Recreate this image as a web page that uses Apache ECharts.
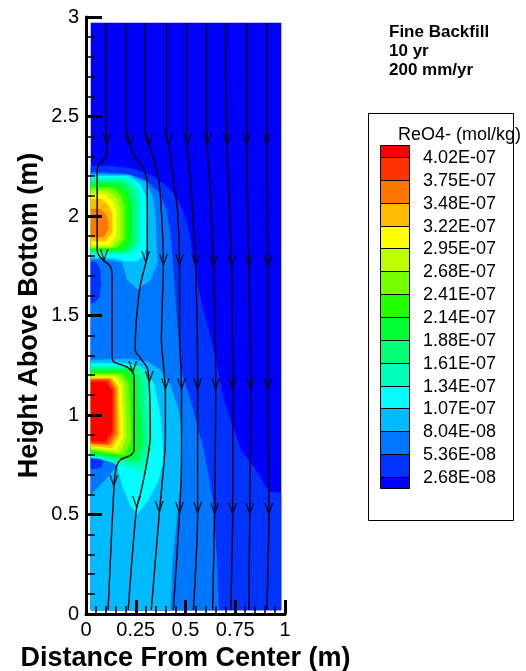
<!DOCTYPE html>
<html>
<head>
<meta charset="utf-8">
<script src="https://cdn.jsdelivr.net/npm/echarts@6/dist/echarts.min.js"></script>
<style>
html, body { margin: 0; padding: 0; background: #fff; }
#main { width: 526px; height: 671px; }
</style>
</head>
<body>
<div id="main"></div>
<script>
// contour levels, ReO4- (mol/kg)
var levels = [2.68e-8, 5.36e-8, 8.04e-8, 1.07e-7, 1.34e-7, 1.61e-7, 1.88e-7, 2.14e-7,
  2.41e-7, 2.68e-7, 2.95e-7, 3.22e-7, 3.48e-7, 3.75e-7, 4.02e-7];
// one colour per band, band 0 = below the first level
var bandColors = ['#0000ff', '#0033ff', '#0077ff', '#00bbff', '#00ffff', '#00ffbb', '#00ff77', '#00ff33',
  '#22ff00', '#77ff00', '#bbff00', '#ffff00', '#ffbb00', '#ff7700', '#ff3300', '#ff0000'];

// filled contour regions (m, m)
var fieldEdge = [[0.025, 0.02], [0.98, 0.02], [0.98, 2.97], [0.025, 2.97]];
var band1Area = [[0.025, 0.02], [0.98, 0.02], [0.98, 0.608], [0.919, 0.613], [0.854, 0.724], [0.778, 0.824],
  [0.692, 1.075], [0.641, 1.327], [0.576, 1.578], [0.54, 1.779], [0.515, 1.93], [0.485, 2.03], [0.449, 2.101],
  [0.399, 2.156], [0.323, 2.206], [0.222, 2.241], [0.121, 2.251], [0.025, 2.251]];
var band2Area = [[0.025, 0.02], [0.667, 0.02], [0.657, 0.271], [0.636, 0.573], [0.591, 0.824], [0.525, 1.075],
  [0.475, 1.226], [0.46, 1.427], [0.449, 1.578], [0.434, 1.779], [0.424, 1.905], [0.404, 2.03], [0.364, 2.121],
  [0.298, 2.181], [0.197, 2.211], [0.025, 2.221]];
var band1PocketUpper = [[0.025, 1.769], [0.051, 1.769], [0.071, 1.729], [0.076, 1.653], [0.066, 1.588], [0.04, 1.563], [0.025, 1.563]];
var band1PocketLower = [[0.025, 0.784], [0.066, 0.784], [0.086, 0.764], [0.076, 0.739], [0.04, 0.729], [0.025, 0.729]];
var band3Lower = [[0.025, 0.02], [0.424, 0.02], [0.434, 0.271], [0.455, 0.472], [0.48, 0.724], [0.485, 0.874],
  [0.465, 1.025], [0.424, 1.151], [0.374, 1.226], [0.313, 1.266], [0.222, 1.281], [0.025, 1.276], [0.025, 0.794],
  [0.131, 0.784], [0.172, 0.759], [0.096, 0.673], [0.025, 0.598]];
var band3Upper = [[0.025, 2.211], [0.222, 2.206], [0.298, 2.171], [0.333, 2.106], [0.348, 2.005], [0.354, 1.854],
  [0.359, 1.769], [0.323, 1.678], [0.258, 1.633], [0.207, 1.678], [0.182, 1.769], [0.071, 1.784], [0.025, 1.784]];
var band4Lower = [[0.025, 1.261], [0.222, 1.256], [0.298, 1.226], [0.343, 1.151], [0.369, 1.025], [0.384, 0.874],
  [0.389, 0.774], [0.364, 0.673], [0.313, 0.573], [0.258, 0.503], [0.222, 0.548], [0.182, 0.648], [0.157, 0.744],
  [0.121, 0.779], [0.025, 0.784]];
var band4Upper = [[0.025, 2.201], [0.207, 2.201], [0.273, 2.161], [0.303, 2.09], [0.308, 1.98], [0.308, 1.859],
  [0.288, 1.799], [0.253, 1.774], [0.197, 1.774], [0.141, 1.789], [0.025, 1.794]];

// lower plume, bands 5..15
var lowerRings = [
  [[0.025, 1.246], [0.273, 1.246], [0.313, 1.196], [0.333, 0.844], [0.303, 0.744], [0.278, 0.709], [0.242, 0.729], [0.025, 0.794]],
  [[0.025, 1.236], [0.253, 1.236], [0.283, 1.191], [0.303, 0.849], [0.268, 0.759], [0.025, 0.799]],
  [[0.025, 1.226], [0.227, 1.226], [0.258, 1.181], [0.278, 0.859], [0.242, 0.774], [0.025, 0.809]],
  [[0.025, 1.216], [0.202, 1.216], [0.232, 1.171], [0.247, 0.864], [0.212, 0.784], [0.025, 0.814]],
  [[0.025, 1.206], [0.182, 1.206], [0.212, 1.161], [0.227, 0.874], [0.192, 0.799], [0.025, 0.824]],
  [[0.025, 1.201], [0.162, 1.201], [0.192, 1.156], [0.202, 0.879], [0.167, 0.809], [0.025, 0.829]],
  [[0.025, 1.191], [0.146, 1.191], [0.177, 1.146], [0.187, 0.889], [0.152, 0.824], [0.025, 0.839]],
  [[0.025, 1.186], [0.131, 1.186], [0.162, 1.141], [0.167, 0.894], [0.131, 0.834], [0.025, 0.844]],
  [[0.025, 1.181], [0.121, 1.181], [0.152, 1.136], [0.157, 0.905], [0.121, 0.849], [0.025, 0.854]],
  [[0.025, 1.176], [0.111, 1.176], [0.141, 1.131], [0.141, 0.910], [0.106, 0.854], [0.025, 0.859]],
  [[0.025, 1.166], [0.101, 1.166], [0.131, 1.121], [0.131, 0.920], [0.096, 0.869], [0.025, 0.869]]
];
// upper plume, bands 5..13
var upperRings = [
  [[0.025, 2.191], [0.212, 2.191], [0.258, 2.146], [0.273, 2.08], [0.273, 1.864], [0.227, 1.809], [0.025, 1.809]],
  [[0.025, 2.176], [0.192, 2.176], [0.237, 2.136], [0.253, 2.07], [0.253, 1.869], [0.212, 1.819], [0.025, 1.819]],
  [[0.025, 2.166], [0.172, 2.166], [0.217, 2.126], [0.232, 2.06], [0.232, 1.874], [0.192, 1.824], [0.025, 1.824]],
  [[0.025, 2.151], [0.152, 2.151], [0.197, 2.111], [0.212, 2.05], [0.212, 1.879], [0.172, 1.834], [0.025, 1.834]],
  [[0.025, 2.141], [0.131, 2.141], [0.177, 2.101], [0.192, 2.04], [0.192, 1.884], [0.152, 1.839], [0.025, 1.839]],
  [[0.025, 2.126], [0.111, 2.126], [0.157, 2.085], [0.172, 2.03], [0.172, 1.889], [0.131, 1.844], [0.025, 1.844]],
  [[0.025, 2.111], [0.096, 2.111], [0.136, 2.07], [0.152, 2.02], [0.152, 1.899], [0.116, 1.854], [0.025, 1.854]],
  [[0.025, 2.085], [0.076, 2.085], [0.116, 2.05], [0.131, 2.005], [0.131, 1.915], [0.096, 1.874], [0.025, 1.874]],
  [[0.025, 2.035], [0.071, 2.035], [0.101, 2.005], [0.111, 1.97], [0.111, 1.93], [0.086, 1.894], [0.025, 1.894]]
];

// streamlines (m, m)
var streamlines = [
  [[0.101, 2.97], [0.101, 2.382], [0.106, 2.322], [0.086, 2.281], [0.061, 2.251], [0.056, 2.206], [0.056, 1.829],
   [0.066, 1.799], [0.091, 1.774], [0.121, 1.749], [0.131, 1.704], [0.131, 1.302], [0.141, 1.266], [0.207, 1.241],
   [0.237, 1.211], [0.242, 1.176], [0.242, 0.824], [0.227, 0.799], [0.172, 0.774], [0.152, 0.734], [0.141, 0.648], [0.111, 0.02]],
  [[0.202, 2.97], [0.202, 2.407], [0.222, 2.357], [0.247, 2.296], [0.288, 2.241], [0.308, 2.156], [0.308, 1.804],
   [0.298, 1.754], [0.273, 1.653], [0.253, 1.477], [0.247, 1.327], [0.273, 1.286], [0.308, 1.236], [0.318, 1.151],
   [0.323, 0.899], [0.308, 0.774], [0.278, 0.623], [0.253, 0.523], [0.212, 0.02]],
  [[0.298, 2.97], [0.298, 2.407], [0.323, 2.342], [0.348, 2.256], [0.369, 2.156], [0.384, 1.93], [0.389, 1.754],
   [0.384, 1.578], [0.379, 1.377], [0.389, 1.251], [0.399, 1.126], [0.399, 0.874], [0.384, 0.673], [0.369, 0.513], [0.328, 0.02]],
  [[0.404, 2.97], [0.404, 2.407], [0.419, 2.332], [0.439, 2.181], [0.46, 2.03], [0.47, 1.754], [0.47, 1.427],
   [0.48, 1.126], [0.48, 0.774], [0.47, 0.508], [0.439, 0.02]],
  [[0.505, 2.97], [0.505, 2.407], [0.52, 2.231], [0.535, 2.03], [0.551, 1.754], [0.561, 1.126], [0.561, 0.508], [0.54, 0.02]],
  [[0.606, 2.97], [0.606, 2.407], [0.621, 2.181], [0.641, 1.744], [0.652, 1.126], [0.646, 0.497], [0.636, 0.02]],
  [[0.702, 2.97], [0.707, 2.382], [0.732, 1.744], [0.737, 1.126], [0.737, 0.497], [0.727, 0.02]],
  [[0.808, 2.97], [0.808, 2.367], [0.818, 1.744], [0.828, 1.126], [0.823, 0.497], [0.818, 0.02]],
  [[0.909, 2.97], [0.909, 2.367], [0.914, 1.744], [0.914, 1.126], [0.919, 0.497], [0.909, 0.02]]
];
// arrow tips along the streamlines
var arrowTips = [
  [0.104, 2.352], [0.223, 2.352], [0.319, 2.352], [0.415, 2.352], [0.51, 2.352], [0.61, 2.352], [0.708, 2.352], [0.808, 2.352], [0.909, 2.352],
  [0.091, 1.769], [0.3, 1.759], [0.389, 1.744], [0.47, 1.744], [0.551, 1.744], [0.641, 1.739], [0.732, 1.739], [0.818, 1.739], [0.914, 1.739],
  [0.235, 1.206], [0.318, 1.156], [0.399, 1.121], [0.48, 1.121], [0.561, 1.121], [0.652, 1.121], [0.737, 1.121], [0.828, 1.121], [0.914, 1.121],
  [0.14, 0.633], [0.254, 0.528], [0.368, 0.503], [0.47, 0.497], [0.561, 0.497], [0.646, 0.492], [0.737, 0.492], [0.823, 0.492], [0.919, 0.492]
];

var noteLines = ['Fine Backfill', '10 yr', '200 mm/yr'];
var legendTitle = 'ReO4- (mol/kg)';

var FONT = '"Liberation Sans", Arial, Helvetica, sans-serif';

// draw order: lowest band first
var regions = [[0, fieldEdge], [1, band1Area], [2, band2Area], [1, band1PocketUpper], [1, band1PocketLower],
  [3, band3Lower], [3, band3Upper], [4, band4Lower], [4, band4Upper]];
for (var b = 5; b <= 15; b++) {
  if (lowerRings[b - 5]) regions.push([b, lowerRings[b - 5]]);
  if (upperRings[b - 5]) regions.push([b, upperRings[b - 5]]);
}

function fmtLevel(v) {
  var s = v.toExponential(2).toUpperCase();
  return s.replace(/E([+-])(\d+)$/, function (m, sign, d) {
    return 'E' + sign + (d.length < 2 ? '0' + d : d);
  });
}

var myChart = echarts.init(document.getElementById('main'));

var graphics = [];
noteLines.forEach(function (t, i) {
  graphics.push({ type: 'text', x: 389, y: 32 + i * 19,
    style: { text: t, font: 'bold 17px ' + FONT, fill: '#000', verticalAlign: 'middle' } });
});
graphics.push({ type: 'rect', shape: { x: 368.5, y: 113.5, width: 145, height: 407 },
  style: { fill: '#fff', stroke: '#000', lineWidth: 1 } });
graphics.push({ type: 'text', x: 398, y: 135,
  style: { text: legendTitle, font: '18px ' + FONT, fill: '#000', verticalAlign: 'middle' } });
var step = 22.86, firstBound = 157, nb = bandColors.length;
for (var k = 0; k < nb; k++) {
  var band = nb - 1 - k;
  var y0 = k === 0 ? 145 : firstBound + step * (k - 1);
  var y1 = k === nb - 1 ? 488 : firstBound + step * k;
  graphics.push({ type: 'rect', shape: { x: 380.5, y: Math.round(y0) + 0.5, width: 29, height: Math.round(y1) - Math.round(y0) },
    style: { fill: bandColors[band], stroke: '#000', lineWidth: 1 } });
}
for (var i = 0; i < levels.length; i++) {
  graphics.push({ type: 'text', x: 423, y: 158 + step * i,
    style: { text: fmtLevel(levels[levels.length - 1 - i]), font: '18px ' + FONT, fill: '#000', verticalAlign: 'middle' } });
}

var series = [{
  type: 'custom',
  silent: true,
  z: 1,
  clip: true,
  data: regions.map(function (r, i) { return [i]; }),
  renderItem: function (params, api) {
    var r = regions[params.dataIndex];
    return {
      type: 'polygon',
      shape: { points: r[1].map(function (p) { return api.coord(p); }) },
      style: { fill: bandColors[r[0]], stroke: bandColors[r[0]], lineWidth: 0.5 }
    };
  }
}];
streamlines.forEach(function (line) {
  series.push({ type: 'line', data: line, showSymbol: false, smooth: 0.25, silent: true, z: 3,
    lineStyle: { color: '#000', width: 1.4 } });
});
series.push({
  type: 'scatter', data: arrowTips, silent: true, z: 4,
  symbol: 'path://M0,0L5,12L10,0L8.4,0L5,8.4L1.6,0Z',
  symbolSize: [9, 13], symbolOffset: [0, '-50%'],
  itemStyle: { color: '#000' }
});

myChart.setOption({
  animation: false,
  backgroundColor: '#fff',
  grid: { left: 86, top: 17, width: 199, height: 597, outerBoundsMode: 'none' },
  xAxis: {
    type: 'value', min: 0, max: 1, interval: 0.25, z: 10,
    name: 'Distance From Center (m)', nameLocation: 'middle', nameGap: 26,
    nameTextStyle: { fontFamily: FONT, fontSize: 27, fontWeight: 'bold', color: '#000' },
    axisLine: { lineStyle: { color: '#000', width: 3 } },
    axisTick: { inside: true, length: 14, lineStyle: { color: '#000', width: 3 } },
    minorTick: { show: true, splitNumber: 5, length: 8, lineStyle: { color: '#000', width: 1.5 } },
    axisLabel: { fontFamily: FONT, fontSize: 20, color: '#000', margin: 6 },
    splitLine: { show: false }
  },
  yAxis: {
    type: 'value', min: 0, max: 3, interval: 0.5, z: 10,
    name: 'Height Above Bottom (m)', nameLocation: 'middle', nameGap: 43,
    nameTextStyle: { fontFamily: FONT, fontSize: 27, fontWeight: 'bold', color: '#000' },
    axisLine: { lineStyle: { color: '#000', width: 3 } },
    axisTick: { inside: true, length: 16, lineStyle: { color: '#000', width: 3 } },
    minorTick: { show: true, splitNumber: 5, length: 9, lineStyle: { color: '#000', width: 1.5 } },
    axisLabel: { fontFamily: FONT, fontSize: 20, color: '#000', margin: 7 },
    splitLine: { show: false }
  },
  graphic: graphics,
  series: series
});
</script>
</body>
</html>
